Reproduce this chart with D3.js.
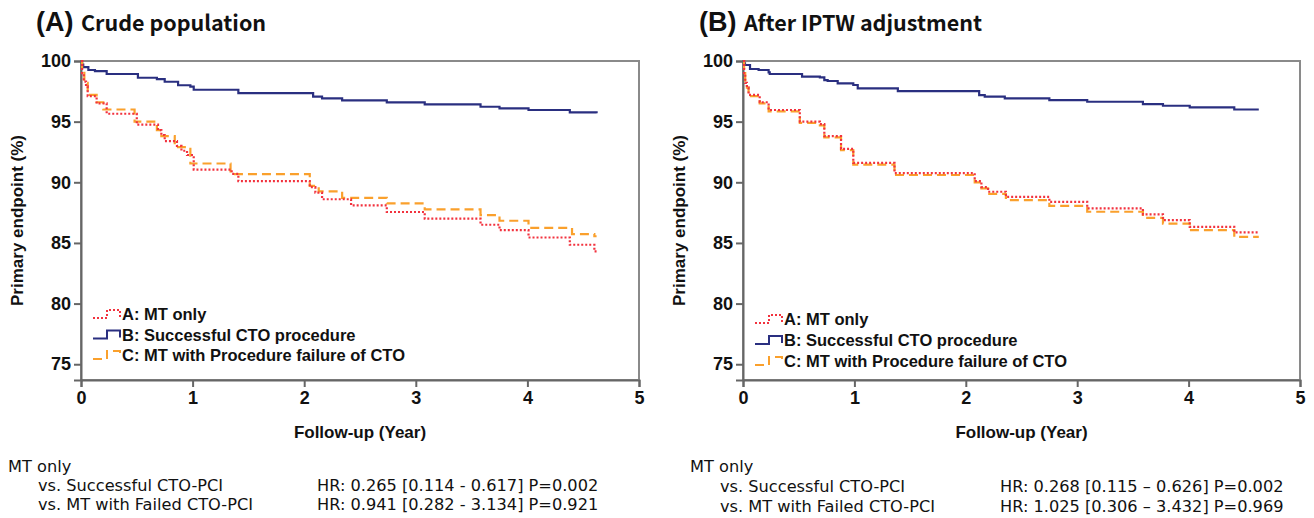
<!DOCTYPE html>
<html lang="en">
<head>
    <meta charset="UTF-8">
    <title>Kaplan-Meier curves</title>
    <script src="https://d3js.org/d3.v7.min.js"></script>
    <style>
        body {
            margin: 0;
            padding: 0;
            overflow: hidden;
            background-color: #fff;
        }
        .tick text {
            font-family: "Liberation Sans", Arial, sans-serif;
            font-weight: bold;
            font-size: 18px;
            fill: #111;
        }
    </style>
</head>
<body>
    <div id="chart"></div>
    <script>
        // Follow-up (years) vs survival free of primary endpoint (%)
        const crudeA = [[0,100],[0.01,99.0],[0.025,98.3],[0.045,97.9],[0.06,97.1],[0.14,96.5],[0.23,95.65],[0.5,94.75],[0.69,94.3],[0.72,93.9],[0.75,93.4],[0.86,93.0],[0.9,92.6],[0.95,92.25],[1.01,91.05],[1.35,90.7],[1.41,90.1],[2.05,89.6],[2.1,89.15],[2.16,88.6],[2.42,88.1],[2.74,87.55],[3.08,87.0],[3.58,86.5],[3.75,86.05],[4.01,85.45],[4.38,84.85],[4.6,84.3],[4.62,84.3]];
        const crudeB = [[0,100],[0.01,99.7],[0.02,99.5],[0.066,99.26],[0.125,99.17],[0.23,98.93],[0.51,98.62],[0.68,98.51],[0.75,98.29],[0.87,98.0],[0.98,97.88],[1.01,97.63],[1.41,97.35],[2.08,97.06],[2.16,96.92],[2.34,96.75],[2.74,96.59],[3.08,96.42],[3.58,96.23],[3.75,96.09],[4.01,95.96],[4.38,95.77],[4.62,95.7]];
        const crudeC = [[0,100],[0.01,99.2],[0.03,98.2],[0.06,97.2],[0.14,96.6],[0.2,96.0],[0.48,95.0],[0.68,94.3],[0.72,93.8],[0.84,92.9],[0.98,91.55],[1.34,90.68],[2.05,89.7],[2.13,89.25],[2.34,88.72],[2.74,88.26],[3.08,87.76],[3.58,87.3],[3.75,86.83],[4.01,86.25],[4.4,85.73],[4.6,85.55],[4.62,85.55]];

        const iptwA = [[0,100],[0.01,99.0],[0.02,98.2],[0.035,97.8],[0.05,97.2],[0.15,96.6],[0.23,95.96],[0.51,95.0],[0.69,94.8],[0.73,93.8],[0.88,92.75],[0.99,91.6],[1.36,90.75],[2.08,90.1],[2.14,89.6],[2.2,89.22],[2.36,88.8],[2.75,88.39],[3.09,87.85],[3.59,87.35],[3.77,86.88],[4.01,86.33],[4.41,85.87],[4.63,85.87]];
        const iptwB = [[0,100],[0.01,99.8],[0.018,99.67],[0.063,99.34],[0.14,99.26],[0.23,99.07],[0.24,98.93],[0.53,98.71],[0.69,98.65],[0.73,98.43],[0.76,98.35],[0.85,98.16],[0.99,98.02],[1.03,97.74],[1.39,97.52],[2.12,97.19],[2.17,97.06],[2.35,96.92],[2.75,96.78],[3.09,96.64],[3.59,96.45],[3.77,96.31],[4.01,96.18],[4.41,96.0],[4.63,96.0]];
        const iptwC = [[0,100],[0.01,99.0],[0.02,98.2],[0.035,97.8],[0.05,97.1],[0.15,96.5],[0.23,95.85],[0.51,94.9],[0.69,94.7],[0.73,93.7],[0.88,92.65],[0.99,91.45],[1.36,90.6],[2.08,90.0],[2.14,89.5],[2.2,89.05],[2.36,88.53],[2.75,88.06],[3.09,87.57],[3.59,87.07],[3.77,86.6],[4.01,86.06],[4.41,85.5],[4.63,85.5]];

        const xTicks = [0, 1, 2, 3, 4, 5];
        const yTicks = [75, 80, 85, 90, 95, 100];
        const legendLabels = ["A: MT only", "B: Successful CTO procedure", "C: MT with Procedure failure of CTO"];
        const panelLetters = ["(A)", "(B)"];
        const panelTitles = ["Crude population", "After IPTW adjustment"];
        const hrLabels = ["vs. Successful CTO-PCI", "vs. MT with Failed CTO-PCI"];
        const hrCrude = ["HR: 0.265 [0.114 - 0.617] P=0.002", "HR: 0.941 [0.282 - 3.134] P=0.921"];
        const hrIptw = ["HR: 0.268 [0.115 \u2013 0.626] P=0.002", "HR: 1.025 [0.306 \u2013 3.432] P=0.969"];

        const width = 1314, height = 518;
        const svg = d3.select("#chart").append("svg")
            .attr("width", width)
            .attr("height", height);

        const styles = [
            {color: "#f2323e", dash: "2,2", width: 2.2},
            {color: "#2a2f80", dash: null, width: 2.2},
            {color: "#faa02c", dash: "9,5", width: 2.2}
        ];

        function drawPanel(p) {
            const x = d3.scaleLinear().domain([0, 5]).range([p.left, p.right]);
            const y = d3.scaleLinear().domain([73.7, 100]).range([380, 61]);
            const g = svg.append("g");

            // title
            const title = g.append("text")
                .attr("x", p.titleX)
                .attr("y", 31)
                .attr("fill", "#111");
            title.append("tspan")
                .attr("font-family", "'Liberation Sans', Arial, sans-serif")
                .attr("font-weight", "bold")
                .attr("font-size", 27)
                .text(p.letter + " ");
            title.append("tspan")
                .attr("font-family", "'Noto Sans CJK KR', 'Noto Sans', sans-serif")
                .attr("font-weight", "bold")
                .attr("font-size", 21.5)
                .text(p.title);

            // frame
            g.append("rect")
                .attr("x", p.left)
                .attr("y", 61)
                .attr("width", p.right - p.left)
                .attr("height", 380 - 61)
                .attr("fill", "none")
                .attr("stroke", "#8a8a8a")
                .attr("stroke-width", 2);

            g.append("g")
                .attr("transform", `translate(${p.left},0)`)
                .call(d3.axisLeft(y).tickValues(yTicks).tickSize(7).tickPadding(3))
                .call(a => a.select(".domain").attr("stroke", "#666").attr("stroke-width", 2))
                .call(a => a.selectAll(".tick line").attr("stroke", "#666").attr("stroke-width", 2));

            g.append("g")
                .attr("transform", "translate(0,380)")
                .call(d3.axisBottom(x).tickValues(xTicks).tickFormat(d3.format("d")).tickSize(7).tickPadding(4))
                .call(a => a.select(".domain").attr("stroke", "#666").attr("stroke-width", 2))
                .call(a => a.selectAll(".tick line").attr("stroke", "#666").attr("stroke-width", 2));

            g.append("text")
                .attr("transform", `translate(${p.left - 58},${(61 + 380) / 2}) rotate(-90)`)
                .attr("text-anchor", "middle")
                .attr("font-family", "'Liberation Sans', Arial, sans-serif")
                .attr("font-weight", "bold")
                .attr("font-size", 17)
                .attr("fill", "#111")
                .text("Primary endpoint (%)");

            g.append("text")
                .attr("x", (p.left + p.right) / 2)
                .attr("y", 438)
                .attr("text-anchor", "middle")
                .attr("font-family", "'Liberation Sans', Arial, sans-serif")
                .attr("font-weight", "bold")
                .attr("font-size", 17)
                .attr("fill", "#111")
                .text("Follow-up (Year)");

            // curves, B first so the A/C overlap stays visible
            const line = d3.line()
                .x(d => x(d[0]))
                .y(d => y(d[1]))
                .curve(d3.curveStepAfter);

            [1, 2, 0].forEach(i => {
                g.append("path")
                    .datum(p.series[i])
                    .attr("d", line)
                    .attr("fill", "none")
                    .attr("stroke", styles[i].color)
                    .attr("stroke-width", styles[i].width)
                    .attr("stroke-dasharray", styles[i].dash);
            });

            // legend
            legendLabels.forEach((lab, i) => {
                const ly = p.legendY + i * p.legendStep;
                const lx = p.left + 12;
                g.append("path")
                    .attr("d", `M${lx},${ly + 4}H${lx + 14}V${ly - 4}H${lx + 27}V${ly + 3}`)
                    .attr("fill", "none")
                    .attr("stroke", styles[i].color)
                    .attr("stroke-width", 2)
                    .attr("stroke-dasharray", styles[i].dash);
                g.append("text")
                    .attr("x", lx + 29)
                    .attr("y", ly + 6)
                    .attr("font-family", "'Liberation Sans', Arial, sans-serif")
                    .attr("font-weight", "bold")
                    .attr("font-size", 16.5)
                    .attr("fill", "#111")
                    .text(lab);
            });

            // hazard ratios
            const hr = g.append("g")
                .attr("font-family", "'DejaVu Sans', sans-serif")
                .attr("font-size", 16.2)
                .attr("fill", "#111");
            hr.append("text")
                .attr("x", p.hrX)
                .attr("y", 472)
                .text("MT only");
            hrLabels.forEach((lab, i) => {
                hr.append("text")
                    .attr("x", p.hrX + 30)
                    .attr("y", p.hrY + i * p.hrStep)
                    .text(lab);
                hr.append("text")
                    .attr("x", p.hrValX)
                    .attr("y", p.hrY + i * p.hrStep)
                    .text(p.hr[i]);
            });
        }

        drawPanel({
            left: 81, right: 639, titleX: 36,
            letter: panelLetters[0], title: panelTitles[0],
            series: [crudeA, crudeB, crudeC],
            legendY: 314, legendStep: 20.5,
            hrX: 8, hrY: 491, hrStep: 19, hrValX: 317, hr: hrCrude
        });
        drawPanel({
            left: 743, right: 1300, titleX: 699,
            letter: panelLetters[1], title: panelTitles[1],
            series: [iptwA, iptwB, iptwC],
            legendY: 319, legendStep: 21,
            hrX: 690, hrY: 492, hrStep: 20, hrValX: 1000, hr: hrIptw
        });
    </script>
</body>
</html>
